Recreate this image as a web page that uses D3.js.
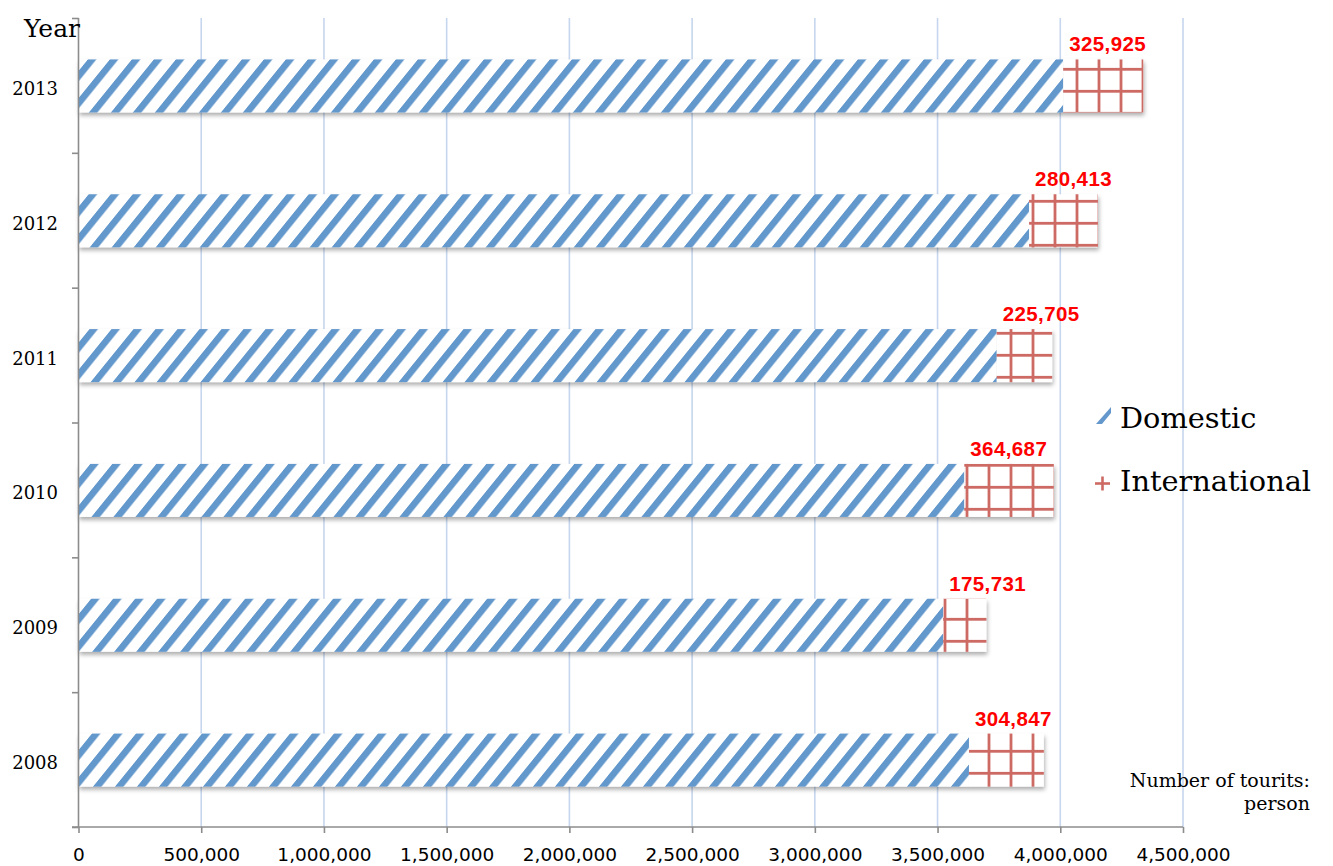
<!DOCTYPE html>
<html>
<head>
<meta charset="utf-8">
<script src="https://cdn.jsdelivr.net/npm/d3@7"></script>
<style>
  html, body { margin: 0; padding: 0; background: #fff; }
  svg { display: block; }
</style>
</head>
<body>
<svg id="chart" width="1333" height="866"></svg>
<script>
// Tourists by year: domestic and international arrivals (persons)
const years = ["2008", "2009", "2010", "2011", "2012", "2013"];
const domestic = [3628000, 3523000, 3609000, 3741000, 3873000, 4012000];
const international = [304847, 175731, 364687, 225705, 280413, 325925];
const xTicks = [0, 500000, 1000000, 1500000, 2000000, 2500000, 3000000, 3500000, 4000000, 4500000];
const seriesNames = ["Domestic", "International"];

const svg = d3.select("#chart");
const defs = svg.append("defs");

const blue = "#6498cc";
const red = "#cd6a64";
const grid = "#c6d6ee";
const axisGray = "#8c8c8c";

// diagonal stripe fill for domestic
const stripe = defs.append("pattern")
  .attr("id", "stripe")
  .attr("patternUnits", "userSpaceOnUse")
  .attr("width", 22).attr("height", 40)
  .attr("patternTransform", "skewX(-39)");
stripe.append("rect").attr("width", 22).attr("height", 40).attr("fill", "#fff");
stripe.append("rect").attr("x", 4).attr("width", 8.5).attr("height", 40).attr("fill", blue);

// grid fill for international
const cross = defs.append("pattern")
  .attr("id", "cross")
  .attr("patternUnits", "userSpaceOnUse")
  .attr("x", 10).attr("y", -8)
  .attr("width", 22).attr("height", 22);
cross.append("rect").attr("width", 22).attr("height", 22).attr("fill", "#fff");
cross.append("rect").attr("x", 9.6).attr("width", 2.8).attr("height", 22).attr("fill", red);
cross.append("rect").attr("y", 9.9).attr("width", 22).attr("height", 2.8).attr("fill", red);

const shadow = defs.append("filter").attr("id", "shadow")
  .attr("x", "-5%").attr("y", "-30%").attr("width", "110%").attr("height", "170%");
shadow.append("feDropShadow")
  .attr("dx", 1).attr("dy", 3).attr("stdDeviation", 2)
  .attr("flood-color", "#000").attr("flood-opacity", 0.32);

const x = d3.scaleLinear().domain([0, 4500000]).range([78.5, 1183]);
const y = d3.scaleBand().domain(years.slice().reverse())
  .range([18.5, 827.5]).paddingInner(0.607).paddingOuter(0.3035);

// vertical gridlines
svg.append("g").selectAll("line").data(xTicks.slice(1)).join("line")
  .attr("x1", d => x(d)).attr("x2", d => x(d))
  .attr("y1", 18).attr("y2", 827)
  .attr("stroke", grid).attr("stroke-width", 1.6);

// bars
const rows = svg.append("g").selectAll("g").data(years).join("g")
  .attr("filter", "url(#shadow)");
rows.append("rect")
  .attr("x", x(0))
  .attr("y", d => y(d))
  .attr("height", y.bandwidth())
  .attr("width", (d, i) => x(domestic[i]) - x(0))
  .attr("fill", "url(#stripe)");
rows.append("rect")
  .attr("x", (d, i) => x(domestic[i]))
  .attr("y", d => y(d))
  .attr("height", y.bandwidth())
  .attr("width", (d, i) => x(domestic[i] + international[i]) - x(domestic[i]))
  .attr("fill", "url(#cross)");

// value labels on the international segment
const fmt = d3.format(",");
svg.append("g").selectAll("text").data(years).join("text")
  .attr("x", (d, i) => x(domestic[i]) + 6)
  .attr("y", d => y(d) - 8)
  .attr("font-family", "'Liberation Sans', Arial, sans-serif")
  .attr("font-weight", "bold")
  .attr("font-size", 20.5)
  .attr("letter-spacing", 0.4)
  .attr("fill", "#ff0000")
  .text((d, i) => fmt(international[i]));

// y axis line and category boundary ticks
svg.append("line")
  .attr("x1", 78.5).attr("x2", 78.5).attr("y1", 18).attr("y2", 827)
  .attr("stroke", axisGray).attr("stroke-width", 1.6);
const bounds = d3.range(years.length + 1).map(i => y.range()[0] + i * y.step());
svg.append("g").selectAll("line").data(bounds).join("line")
  .attr("x1", 72).attr("x2", 78.5)
  .attr("y1", d => d).attr("y2", d => d)
  .attr("stroke", axisGray).attr("stroke-width", 1.6);

svg.append("g").selectAll("text").data(years).join("text")
  .attr("x", 58)
  .attr("y", d => y(d) + y.bandwidth() / 2 + 9)
  .attr("text-anchor", "end")
  .attr("font-family", "'DejaVu Serif', serif")
  .attr("font-size", 18)
  .attr("fill", "#000")
  .text(d => d);

svg.append("text")
  .attr("x", 24).attr("y", 37)
  .attr("font-family", "'DejaVu Serif', serif")
  .attr("font-size", 25)
  .text("Year");

// x axis
const xAxis = d3.axisBottom(x).tickValues(xTicks).tickFormat(fmt).tickSize(6).tickSizeOuter(0).tickPadding(15);
const gx = svg.append("g").attr("transform", "translate(0,827)").call(xAxis);
gx.select(".domain").remove();
gx.selectAll(".tick line").attr("stroke", axisGray).attr("stroke-width", 1.6);
gx.selectAll(".tick text")
  .attr("font-family", "'DejaVu Sans', sans-serif")
  .attr("font-size", 18.5)
  .attr("fill", "#000");
svg.append("line")
  .attr("x1", 72).attr("x2", 1183).attr("y1", 827).attr("y2", 827)
  .attr("stroke", axisGray).attr("stroke-width", 1.6);

// legend
const legend = svg.append("g");
legend.append("rect").attr("x", 1094).attr("y", 407).attr("width", 18).attr("height", 19).attr("fill", "#fff");
legend.append("polygon")
  .attr("points", "1096,424 1102,424 1111,413 1111,407")
  .attr("fill", blue);
legend.append("rect").attr("x", 1094).attr("y", 474).attr("width", 18).attr("height", 19).attr("fill", "#fff");
legend.append("line").attr("x1", 1095).attr("x2", 1110).attr("y1", 483.5).attr("y2", 483.5)
  .attr("stroke", red).attr("stroke-width", 2.6);
legend.append("line").attr("x1", 1102.5).attr("x2", 1102.5).attr("y1", 476.5).attr("y2", 490.5)
  .attr("stroke", red).attr("stroke-width", 2.6);
legend.selectAll("text.lbl").data(seriesNames).join("text")
  .attr("class", "lbl")
  .attr("x", 1120)
  .attr("y", (d, i) => 428 + i * 63)
  .attr("font-family", "'DejaVu Serif', serif")
  .attr("font-size", 28.8)
  .attr("fill", "#000")
  .text(d => d);

// unit note
const unit = svg.append("text")
  .attr("text-anchor", "end")
  .attr("font-family", "'DejaVu Serif', serif")
  .attr("font-size", 19)
  .attr("fill", "#000");
unit.append("tspan").attr("x", 1310).attr("y", 787).text("Number of tourits:");
unit.append("tspan").attr("x", 1310).attr("y", 810).text("person");
</script>
</body>
</html>
